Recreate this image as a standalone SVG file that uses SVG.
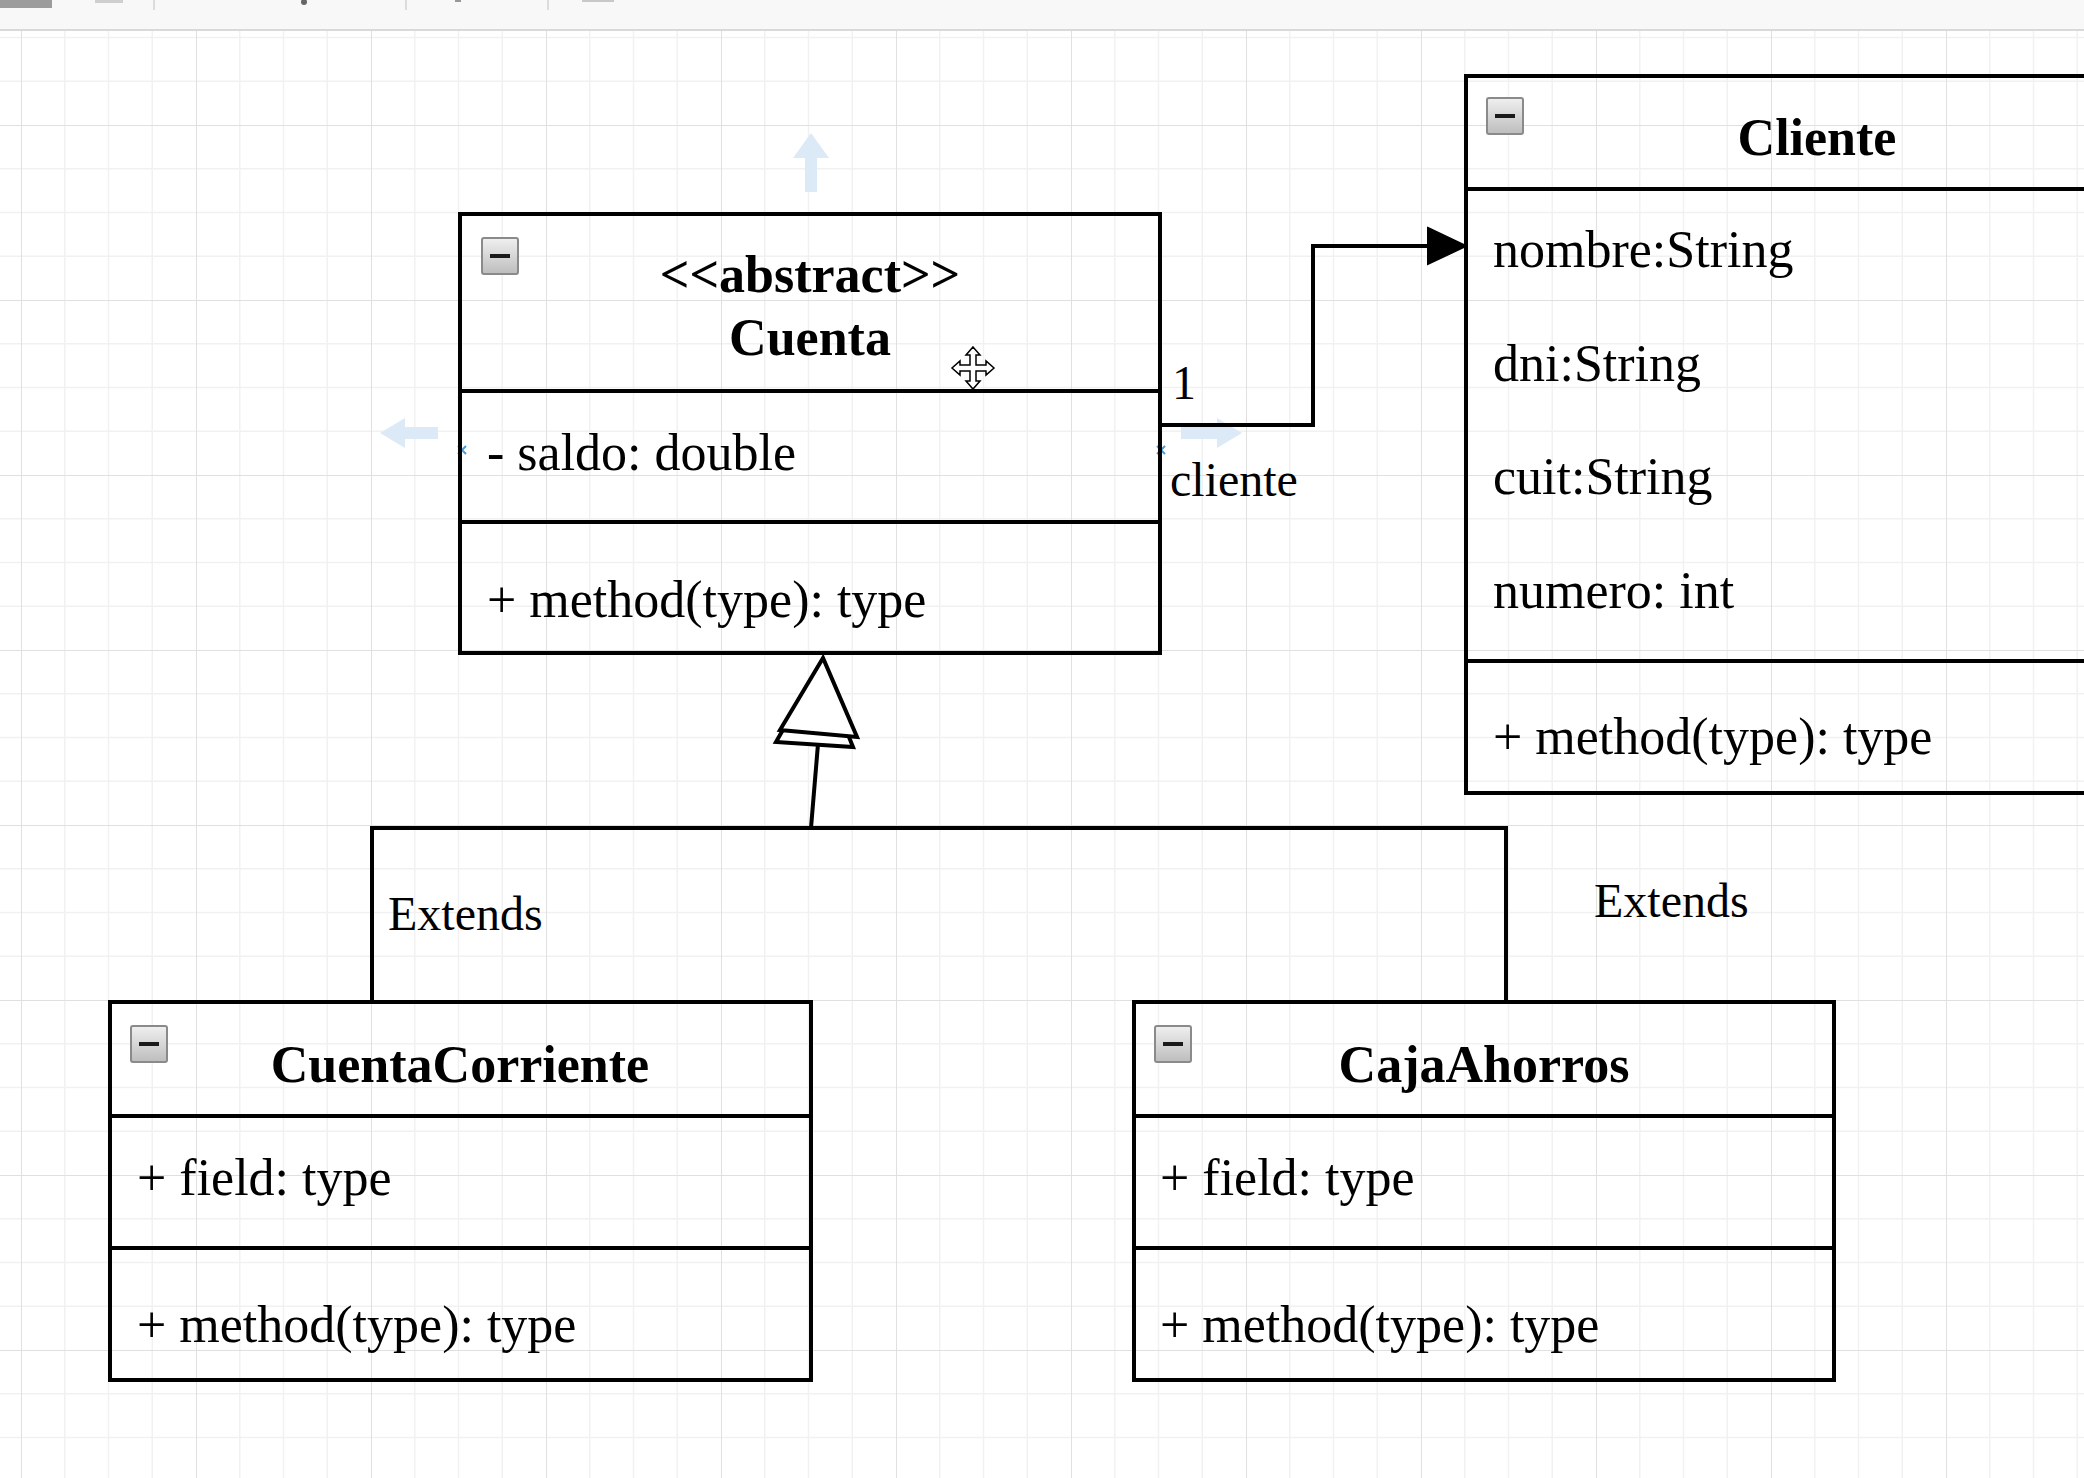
<svg xmlns="http://www.w3.org/2000/svg" width="2084" height="1478" viewBox="0 0 2084 1478">
<style>
.box{fill:none;stroke:#000;stroke-width:4}
.div{stroke:#000;stroke-width:4}
.t{font-family:"Liberation Serif","Times New Roman",serif;font-size:52px;fill:#000}
.b{font-weight:bold}
.c{text-anchor:middle}
.lbl{font-size:48px}
.edge{fill:none;stroke:#000;stroke-width:4}
.hover{fill:#dceaf7}
.pt{stroke:#4a9ad8;stroke-width:2}
</style>
<defs>
<pattern id="grid" x="21" y="125" width="175" height="175" patternUnits="userSpaceOnUse">
<path d="M43.75 0V175M87.5 0V175M131.25 0V175M0 43.75H175M0 87.5H175M0 131.25H175" stroke="#f1f1f1" stroke-width="1.5" fill="none"/>
<path d="M0 0V175M0 0H175" stroke="#e0e0e0" stroke-width="2" fill="none"/>
</pattern>
<linearGradient id="icog" x1="0" y1="0" x2="0" y2="1">
<stop offset="0" stop-color="#f0f0f0"/>
<stop offset="1" stop-color="#bdbdbd"/>
</linearGradient>
<g id="ico">
<rect x="1" y="1" width="36" height="36" rx="2" fill="url(#icog)" stroke="#8a8a8a" stroke-width="2"/>
<line x1="9" y1="19" x2="29" y2="19" stroke="#1a1a1a" stroke-width="4"/>
</g>
</defs>
<rect x="0" y="0" width="2084" height="1478" fill="#fff"/>
<rect x="0" y="31" width="2084" height="1447" fill="url(#grid)"/>
<g id="toolbar">
<rect x="0" y="0" width="2084" height="30" fill="#f8f8f8"/>
<line x1="0" y1="30" x2="2084" y2="30" stroke="#d9d9d9" stroke-width="2"/>
<rect x="0" y="0" width="52" height="8" fill="#9c9c9c"/>
<rect x="95" y="0" width="28" height="3" fill="#cfcfcf"/>
<line x1="154" y1="0" x2="154" y2="10" stroke="#dcdcdc" stroke-width="2"/>
<circle cx="304" cy="2" r="3" fill="#666"/>
<line x1="406" y1="0" x2="406" y2="10" stroke="#dcdcdc" stroke-width="2"/>
<rect x="455" y="0" width="6" height="2" fill="#999"/>
<line x1="548" y1="0" x2="548" y2="10" stroke="#dcdcdc" stroke-width="2"/>
<rect x="582" y="0" width="32" height="2" fill="#c8c8c8"/>
</g>
<g id="hover-ui">
<path class="hover" d="M811 133 L829 158 L817 158 L817 192 L805 192 L805 158 L793 158 Z"/>
<path class="hover" d="M380 433 L405 418 L405 427 L438 427 L438 439 L405 439 L405 448 Z"/>
<path class="hover" d="M1242 433 L1217 418 L1217 427 L1181 427 L1181 439 L1217 439 L1217 448 Z"/>
<path class="pt" d="M458 446 L466 454 M466 446 L458 454"/>
<path class="pt" d="M1157 446 L1165 454 M1165 446 L1157 454"/>
</g>
<g id="connectors">
<polyline class="edge" points="1160,425 1313,425 1313,246 1430,246"/>
<polygon points="1428,228 1466,246 1428,264" fill="#000" stroke="#000" stroke-width="2"/>
<polyline class="edge" points="372,1002 372,828 1506,828 1506,1002"/>
<line class="edge" x1="811" y1="828" x2="818" y2="744"/>
<polygon points="820,665 776,742 853,747" fill="#fff" stroke="#000" stroke-width="4" stroke-linejoin="miter"/>
<polygon points="823,658 780,730 857,737" fill="#fff" stroke="#000" stroke-width="4" stroke-linejoin="miter"/>
<text class="t lbl" x="1172" y="399">1</text>
<text class="t lbl" x="1170" y="496">cliente</text>
<text class="t lbl" x="388" y="930">Extends</text>
<text class="t lbl" x="1594" y="917">Extends</text>
</g>
<g id="node-cuenta">
<rect class="box" x="460" y="214" width="700" height="439"/>
<line class="div" x1="460" y1="391" x2="1160" y2="391"/>
<line class="div" x1="460" y1="522" x2="1160" y2="522"/>
<use href="#ico" x="481" y="237"/>
<text class="t b c" x="810" y="292">&lt;&lt;abstract&gt;&gt;</text>
<text class="t b c" x="810" y="355">Cuenta</text>
<text class="t" x="487" y="470">- saldo: double</text>
<text class="t" x="487" y="617">+ method(type): type</text>
</g>
<g id="node-cliente">
<rect class="box" x="1466" y="76" width="702" height="717"/>
<line class="div" x1="1466" y1="189" x2="2168" y2="189"/>
<line class="div" x1="1466" y1="661" x2="2168" y2="661"/>
<use href="#ico" x="1486" y="97"/>
<text class="t b c" x="1817" y="155">Cliente</text>
<text class="t" x="1493" y="267">nombre:String</text>
<text class="t" x="1493" y="381">dni:String</text>
<text class="t" x="1493" y="494">cuit:String</text>
<text class="t" x="1493" y="608">numero: int</text>
<text class="t" x="1493" y="754">+ method(type): type</text>
</g>
<g id="node-cuentacorriente">
<rect class="box" x="110" y="1002" width="701" height="378"/>
<line class="div" x1="110" y1="1116" x2="811" y2="1116"/>
<line class="div" x1="110" y1="1248" x2="811" y2="1248"/>
<use href="#ico" x="130" y="1025"/>
<text class="t b c" x="460" y="1082">CuentaCorriente</text>
<text class="t" x="137" y="1195">+ field: type</text>
<text class="t" x="137" y="1342">+ method(type): type</text>
</g>
<g id="node-cajaahorros">
<rect class="box" x="1134" y="1002" width="700" height="378"/>
<line class="div" x1="1134" y1="1116" x2="1834" y2="1116"/>
<line class="div" x1="1134" y1="1248" x2="1834" y2="1248"/>
<use href="#ico" x="1154" y="1025"/>
<text class="t b c" x="1484" y="1082">CajaAhorros</text>
<text class="t" x="1160" y="1195">+ field: type</text>
<text class="t" x="1160" y="1342">+ method(type): type</text>
</g>
<g id="cursor" transform="translate(973,368)">
<path d="M0,-21 L7,-13 L3,-13 L3,-3 L13,-3 L13,-7 L21,0 L13,7 L13,3 L3,3 L3,13 L7,13 L0,21 L-7,13 L-3,13 L-3,3 L-13,3 L-13,7 L-21,0 L-13,-7 L-13,-3 L-3,-3 L-3,-13 L-7,-13 Z" fill="#fff" stroke="#000" stroke-width="1.5"/>
</g>
</svg>
